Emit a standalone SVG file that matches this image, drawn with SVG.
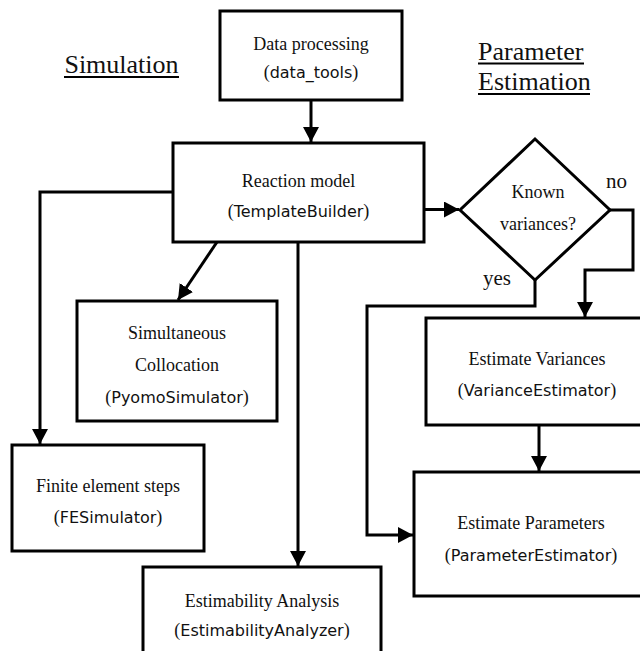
<svg xmlns="http://www.w3.org/2000/svg" width="640" height="651" viewBox="0 0 640 651">
<style>
.box{fill:#fff;stroke:#000;stroke-width:3}
.ln{fill:none;stroke:#000;stroke-width:3}
.s{font-family:"Liberation Serif","Times New Roman",serif;font-size:18px;fill:#111}
.yn{font-family:"Liberation Serif","Times New Roman",serif;font-size:21px;fill:#111}
.ss{font-family:"DejaVu Sans","Bitstream Vera Sans",sans-serif;font-size:16px;fill:#111}
.p{font-family:"Liberation Serif","Times New Roman",serif;font-size:18px}
.h{font-family:"Liberation Serif","Times New Roman",serif;font-size:26px;fill:#111}
.ul{stroke:#000;stroke-width:2}
</style>
<defs>
<marker id="ah" markerWidth="15" markerHeight="16" refX="15" refY="8" orient="auto" markerUnits="userSpaceOnUse">
<path d="M0,0 L15,8 L0,16 Z" fill="#000"/>
</marker>
</defs>
<rect width="640" height="651" fill="#fff"/>
<g id="headings">
<text class="h" x="121.5" y="73" text-anchor="middle">Simulation</text>
<line class="ul" x1="64" y1="77" x2="179" y2="77"/>
<text class="h" x="478" y="60">Parameter</text>
<line class="ul" x1="478" y1="63.5" x2="584" y2="63.5"/>
<text class="h" x="478" y="90">Estimation</text>
<line class="ul" x1="478" y1="94" x2="590" y2="94"/>
</g>
<g id="connectors">
<line class="ln" x1="311" y1="100" x2="311" y2="142" marker-end="url(#ah)"/>
<polyline class="ln" points="173,192 40,192 40,444" marker-end="url(#ah)"/>
<line class="ln" x1="217" y1="242" x2="178" y2="300" marker-end="url(#ah)"/>
<line class="ln" x1="298" y1="242" x2="298" y2="566" marker-end="url(#ah)"/>
<line class="ln" x1="424" y1="209.5" x2="459" y2="209.5" marker-end="url(#ah)"/>
<polyline class="ln" points="610,210 633,210 633,270 585,270 585,317" marker-end="url(#ah)"/>
<polyline class="ln" points="535,280 535,306 367,306 367,535 413,535" marker-end="url(#ah)"/>
<line class="ln" x1="539" y1="425" x2="539" y2="471" marker-end="url(#ah)"/>
<text class="yn" x="606" y="188">no</text>
<text class="yn" x="483" y="285">yes</text>
</g>
<g id="data">
<rect class="box" x="220" y="11" width="182" height="89"/>
<text class="s" x="311" y="50" text-anchor="middle">Data processing</text>
<text class="ss" x="311" y="78" text-anchor="middle"><tspan class="p">(</tspan>data_tools<tspan class="p">)</tspan></text>
</g>
<g id="reaction">
<rect class="box" x="173" y="143" width="251" height="99"/>
<text class="s" x="298.5" y="187" text-anchor="middle">Reaction model</text>
<text class="ss" x="298.5" y="217" text-anchor="middle"><tspan class="p">(</tspan>TemplateBuilder<tspan class="p">)</tspan></text>
</g>
<g id="decision">
<polygon class="box" points="535,139 610,210 535,280 460,210"/>
<text class="s" x="538" y="198" text-anchor="middle">Known</text>
<text class="s" x="538" y="230" text-anchor="middle">variances?</text>
</g>
<g id="simultaneous">
<rect class="box" x="77" y="301" width="200" height="120"/>
<text class="s" x="177" y="339" text-anchor="middle">Simultaneous</text>
<text class="s" x="177" y="371" text-anchor="middle">Collocation</text>
<text class="ss" x="177" y="403" text-anchor="middle"><tspan class="p">(</tspan>PyomoSimulator<tspan class="p">)</tspan></text>
</g>
<g id="fe">
<rect class="box" x="12" y="445" width="192" height="106"/>
<text class="s" x="108" y="492" text-anchor="middle">Finite element steps</text>
<text class="ss" x="108" y="523" text-anchor="middle"><tspan class="p">(</tspan>FESimulator<tspan class="p">)</tspan></text>
</g>
<g id="estimability">
<rect class="box" x="143" y="567" width="238" height="100"/>
<text class="s" x="262" y="607" text-anchor="middle">Estimability Analysis</text>
<text class="ss" x="262" y="636" text-anchor="middle"><tspan class="p">(</tspan>EstimabilityAnalyzer<tspan class="p">)</tspan></text>
</g>
<g id="variances">
<rect class="box" x="426" y="318" width="230" height="107"/>
<text class="s" x="537" y="365" text-anchor="middle">Estimate Variances</text>
<text class="ss" x="537" y="396" text-anchor="middle"><tspan class="p">(</tspan>VarianceEstimator<tspan class="p">)</tspan></text>
</g>
<g id="parameters">
<rect class="box" x="414" y="472" width="240" height="124"/>
<text class="s" x="531" y="529" text-anchor="middle">Estimate Parameters</text>
<text class="ss" x="531" y="561" text-anchor="middle"><tspan class="p">(</tspan>ParameterEstimator<tspan class="p">)</tspan></text>
</g>
</svg>
